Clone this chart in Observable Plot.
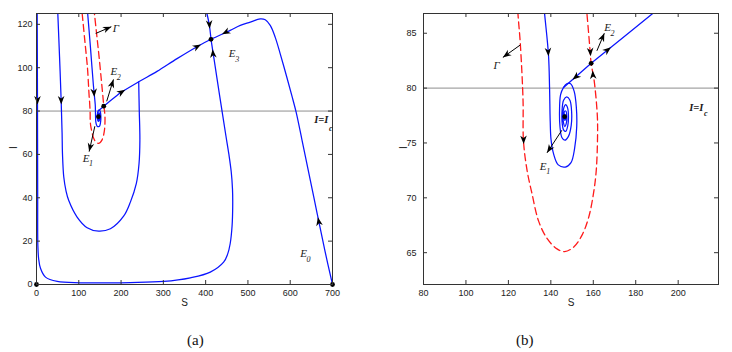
<!DOCTYPE html>
<html><head><meta charset="utf-8">
<script src="https://cdn.jsdelivr.net/npm/d3@7"></script>
<script src="https://cdn.jsdelivr.net/npm/@observablehq/plot@0.6"></script>
<style>
body{margin:0;background:#fff;}
#wrap{position:relative;width:732px;height:352px;overflow:hidden;background:#fff;}
.panel{position:absolute;top:0;}
.cap{position:absolute;font-family:"Liberation Serif","DejaVu Serif",serif;font-size:15px;line-height:18px;color:#111;}
</style></head><body>
<div id="wrap">
<div id="pa" class="panel" style="left:0"></div>
<div id="pb" class="panel" style="left:370px"></div>
<div class="cap" style="left:187px;top:331px">(a)</div>
<div class="cap" style="left:516px;top:331px">(b)</div>
</div>
<script>
// ---------- data (S, I) ----------
const ICRIT = 80;
const xTicksA = [0, 100, 200, 300, 400, 500, 600, 700];
const yTicksA = [0, 20, 40, 60, 80, 100, 120];
const xTicksB = [80, 100, 120, 140, 160, 180, 200];
const yTicksB = [65, 70, 75, 80, 85];

// separatrix Γ (stable manifold of E2), red dashed
const gammaCurve = [[108,125],[114.5,112],[120.5,100],[123,92],[124.5,86.8],[125.6,84.1],[126.9,78.9],[127.1,75.2],[128.8,72.5],[131.1,70.4],[134.2,67.9],[138.2,66.3],[142.9,65.35],[146.5,65.1],[150.7,65.5],[154.7,66.6],[157.8,68.2],[160.1,70.4],[161.4,72.5],[162,75.5],[161.9,77.5],[160.4,80.7],[159,82.26],[158.2,84.1],[157,86.8],[153,95],[148,105],[142.5,115],[137,125]];

// trajectory from the top spiralling into E1
const spiralCurve = [[121,125],[126.5,112],[131.3,100],[134.5,92],[137,86.9],[138.9,83],[139.4,80],[139.7,77],[140.1,75.3],[141.3,74.0],[143.5,73.0],[146.8,72.8],[149.5,73.2],[151.2,74.5],[152.2,76.5],[152,78.3],[151,79.7],[149.3,80.4],[147.5,80.4],[146,80.06],[144.6,79.4],[144.1,78],[144.3,76.5],[145.2,75.5],[146.6,75.25],[148.3,75.6],[149.6,76.6],[149.8,77.8],[149,78.9],[147.5,79.2],[146,78.9],[145.3,78],[145.3,76.9],[146,76.2],[147,76.05],[148,76.6],[148.3,77.4],[147.9,78.2],[147,78.5],[146.1,78.2],[145.7,77.5],[146,76.8],[146.6,76.5],[147.3,76.8],[147.5,77.4],[147.1,77.9],[146.5,77.9],[146.2,77.5],[146.4,77.1],[146.8,77.1],[146.9,77.4],[146.6,77.6],[146.5,77.4]];

// unstable manifold of E2 towards E1
const e2ToE1 = [[159,82.26],[146,80.06]];

// unstable manifold of E2 towards E3, and E0 -> E3 branch
const mainCurve = [[159,82.26],[188,86.8],[198.4,88.4],[241.7,93.5],[285,98.3],[332.4,104.2],[379.6,109.7],[412.7,113.1],[458,117.2],[482,119.5],[505.6,121],[529,122.5],[541,122.1],[552.8,119.5],[564.6,114],[576.4,106.4],[592,95.6],[604,87],[614,79.5],[628,66.5],[645,50.5],[664,32.5],[682,15.6],[700,0]];

// inner loop joining the E2–E3 branch
const innerLoop = [[50.4,125],[54.5,105],[58.3,85],[60.5,70],[61.5,60],[64.5,49.6],[70,43],[76.3,38.7],[96,31.1],[119.7,26.2],[147,24.6],[174.8,25.7],[206,31.5],[222,38],[236,46.5],[242.5,55.8],[244.5,66.5],[243,80.4],[241.7,93.5]];

// outer loop (stable manifold of E3 from below)
const outerLoop = [[1.6,125],[2.3,85],[2.8,40],[3.2,18],[5,12],[9.4,7.5],[21.3,3.4],[49,1.4],[104,0.8],[222,0.9],[300.7,1.4],[363.8,3.1],[411,5.7],[442.5,10.3],[452,14],[458,18.8],[462.5,27],[464,36],[463.5,44],[460.5,52],[455,60],[448,68.5],[440,78.5],[430,91],[420,103.8],[412.7,113.1]];

// stable manifold of E3 from above
const e3Top = [[403,125],[408.7,119.7],[412.7,113.1]];

// equilibria
const pointsA = [[0,0],[700,0],[146.5,77.4],[159,82.26],[412.7,113.1]];
const pointsB = [[146.5,77.4],[159,82.26]];

// arrows (tail -> tip); shaft: drawn with a line
const arrowsA = [
  {x1:2.3, y1:89, x2:2.3, y2:83},
  {x1:58, y1:89, x2:58.5, y2:83},
  {x1:134.5, y1:92, x2:136.8, y2:86.5},
  {x1:195, y1:88, x2:210, y2:89.8},
  {x1:372, y1:108.9, x2:389, y2:110.7},
  {x1:407.5, y1:124, x2:409.5, y2:118},
  {x1:419.5, y1:102, x2:416.5, y2:108.5},
  {x1:455, y1:117.1, x2:438.6, y2:115.4},
  {x1:671.5, y1:25, x2:665.5, y2:31},
  {x1:140, y1:115.8, x2:177, y2:118.9, shaft:true},
  {x1:166, y1:84.5, x2:182, y2:94.6, shaft:true},
  {x1:138, y1:73, x2:124.5, y2:61.3, shaft:true}
];
const arrowsB = [
  {x1:138.3, y1:84.6, x2:138.9, y2:82.9},
  {x1:127.0, y1:76.6, x2:127.2, y2:74.9},
  {x1:158.4, y1:84.0, x2:158.75, y2:82.9},
  {x1:160.2, y1:80.3, x2:159.7, y2:81.6},
  {x1:165, y1:83.2, x2:168.3, y2:83.72},
  {x1:153.5, y1:81.3, x2:150.2, y2:80.77},
  {x1:125.6, y1:83.93, x2:117.4, y2:82.8, shaft:true},
  {x1:161.7, y1:83.4, x2:165.2, y2:85.0, shaft:true},
  {x1:145.2, y1:76.16, x2:138.2, y2:74.1, shaft:true}
];

// labels: main text, subscript, position (S, I)
const labelsA = [
  {t:"E", sub:"1", S:117.1, I:58.3},
  {t:"E", sub:"2", S:182.8, I:98.1},
  {t:"E", sub:"3", S:462.8, I:106.4},
  {t:"E", sub:"0", S:631.4, I:14.2},
  {t:"Γ", sub:"", S:188, I:118.3}
];
const icLabelA = [{t:"I=I", sub:"c", S:673.5, I:75.9}];
const labelsB = [
  {t:"E", sub:"1", S:136.4, I:72.9},
  {t:"E", sub:"2", S:166.7, I:85.5},
  {t:"Γ", sub:"", S:114.5, I:82.1}
];
const icLabelB = [{t:"I=I", sub:"c", S:208.5, I:78.2}];

// ---------- drawing ----------
const headSymbol = {draw(ctx) { ctx.moveTo(0,0); ctx.lineTo(-8.5,-3.3); ctx.lineTo(-6,0); ctx.lineTo(-8.5,3.3); ctx.closePath(); }};
const serif = "'Liberation Serif', 'DejaVu Serif', serif";
const BLUE = "#0a14ff", RED = "#ff1a1a";

function build(cfg, heads) {
  const fw = cfg.width - cfg.ml - cfg.mr, fh = cfg.height - cfg.mt - cfg.mb;
  const L = (data, o) => Plot.line(data, {x: d => d[0], y: d => d[1], curve: "catmull-rom", clip: true, ...o});
  const blue = {stroke: BLUE, strokeWidth: 1.25};
  return Plot.plot({
    width: cfg.width, height: cfg.height,
    marginLeft: cfg.ml, marginRight: cfg.mr, marginTop: cfg.mt, marginBottom: cfg.mb,
    style: {fontFamily: "'Liberation Sans', Arial, sans-serif", fontSize: "9px", color: "#222", background: "white", overflow: "visible"},
    x: {domain: cfg.xDomain, ticks: cfg.xTicks, tickSize: 0, tickPadding: 5, label: null},
    y: {domain: cfg.yDomain, ticks: cfg.yTicks, tickSize: 0, tickPadding: cfg.yPad, label: null},
    marks: [
      Plot.ruleY([ICRIT], {stroke: "#8e8e8e", strokeWidth: 1}),
      L(outerLoop, blue),
      L(e3Top, blue),
      L(innerLoop, blue),
      L(mainCurve, blue),
      L(spiralCurve, blue),
      L(e2ToE1, {...blue, curve: "linear"}),
      L(gammaCurve, {stroke: RED, strokeWidth: 1.3, strokeDasharray: "7,4"}),
      Plot.link(cfg.arrows.filter(d => d.shaft), {x1: "x1", y1: "y1", x2: "x2", y2: "y2", stroke: "black", strokeWidth: 1}),
      heads ? Plot.dot(heads, {x: "x", y: "y", rotate: "a", symbol: headSymbol, r: 4, fill: "black", stroke: "none"}) : null,
      Plot.dot(cfg.points, {x: d => d[0], y: d => d[1], r: 2.4, fill: "black", stroke: "none"}),
      Plot.frame({stroke: "#333", strokeWidth: 1}),
      Plot.ruleX(cfg.xTicks, {x: d => d, insetTop: fh - 4, stroke: "#333"}),
      Plot.ruleX(cfg.xTicks, {x: d => d, insetBottom: fh - 4, stroke: "#333"}),
      Plot.ruleY(cfg.yTicks, {y: d => d, insetRight: fw - 4, stroke: "#333"}),
      Plot.ruleY(cfg.yTicks, {y: d => d, insetLeft: fw - 4, stroke: "#333"}),
      Plot.text(["S"], {frameAnchor: "bottom", dy: 21, text: d => d, fontSize: 10, fill: "#222"}),
      Plot.text(["I"], {frameAnchor: "left", dx: cfg.ylabDx, rotate: -90, text: d => d, fontSize: 10, fill: "#222"}),
      Plot.text(cfg.labels, {x: "S", y: "I", text: "t", fontFamily: serif, fontStyle: "italic", fontSize: 11, fill: "#1a1a1a"}),
      Plot.text(cfg.labels, {x: "S", y: "I", text: "sub", dx: 5, dy: 5.5, fontFamily: serif, fontStyle: "italic", fontSize: 8, fill: "#1a1a1a"}),
      Plot.text(cfg.ic, {x: "S", y: "I", text: "t", fontFamily: serif, fontStyle: "italic", fontWeight: "bold", fontSize: 10.5, fill: "#1a1a1a"}),
      Plot.text(cfg.ic, {x: "S", y: "I", text: "sub", dx: 9.5, dy: cfg.icDy, fontFamily: serif, fontStyle: "italic", fontWeight: "bold", fontSize: 8, fill: "#1a1a1a"})
    ]
  });
}

function render(cfg) {
  const p0 = build(cfg, null);
  const sx = p0.scale("x"), sy = p0.scale("y");
  const heads = cfg.arrows.map(d => {
    const dx = sx.apply(d.x2) - sx.apply(d.x1), dy = sy.apply(d.y2) - sy.apply(d.y1);
    return {x: d.x2, y: d.y2, a: Math.atan2(dy, dx) * 180 / Math.PI};
  });
  document.querySelector(cfg.el).append(build(cfg, heads));
}

render({el: "#pa", width: 360, height: 310, ml: 36, mr: 28, mt: 13, mb: 26,
  xDomain: [0, 700], yDomain: [0, 125], xTicks: xTicksA, yTicks: yTicksA, yPad: 4, ylabDx: -23, icDy: 8,
  arrows: arrowsA, points: pointsA, labels: labelsA, ic: icLabelA});
render({el: "#pb", width: 362, height: 310, ml: 53, mr: 14, mt: 13, mb: 26,
  xDomain: [80, 219], yDomain: [62.1, 86.8], xTicks: xTicksB, yTicks: yTicksB, yPad: 7, ylabDx: -20, icDy: 6,
  arrows: arrowsB, points: pointsB, labels: labelsB, ic: icLabelB});
</script>
</body></html>
